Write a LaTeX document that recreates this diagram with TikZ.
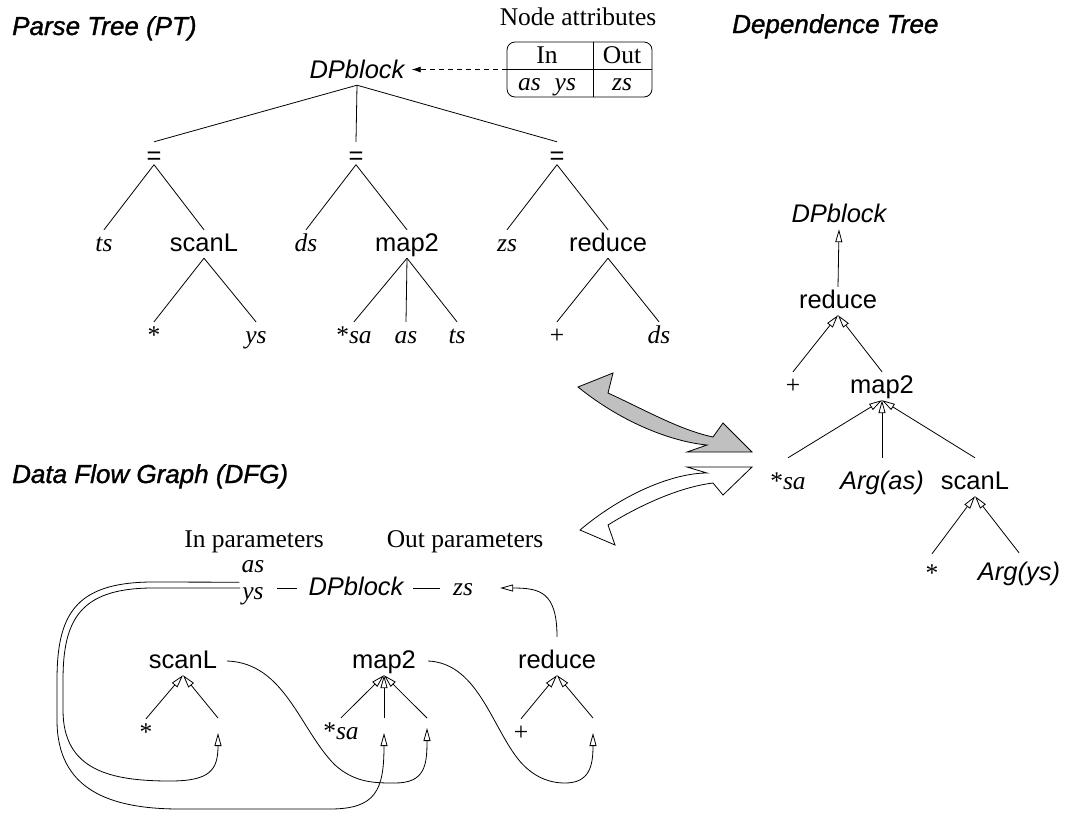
\documentclass[tikz,border=0pt]{standalone}
\usepackage{fontspec}
\setmainfont{Liberation Serif}
\setsansfont{Liberation Sans}
\newfontfamily\headfont[FakeBold=1.2]{Liberation Sans}
\usetikzlibrary{arrows.meta,calc}

\begin{document}
\begin{tikzpicture}[x=1pt,y=-1pt,
  every node/.style={inner sep=2pt, anchor=base, text height=19pt, text depth=5pt,
    font=\fontsize{25.5}{30}\selectfont},
  sf/.style={font=\fontsize{25.5}{30}\selectfont\sffamily},
  sfi/.style={font=\fontsize{25.5}{30}\selectfont\sffamily\itshape},
  rmi/.style={font=\fontsize{25.5}{30}\selectfont\itshape},
  eqn/.style={sf, text height=22.5pt, text depth=0pt, inner sep=0pt},
  heading/.style={font=\fontsize{26}{30}\selectfont\headfont\itshape, anchor=base west, inner sep=0pt},
  tree/.style={line width=0.8pt},
  dep/.style={line width=0.8pt, -{Triangle[open,length=13pt,width=7pt,line width=0.8pt]}},
  bigarrow/.style={line width=0.8pt, line join=miter},
]
\fill[white] (0,0) rectangle (1067,812);
\useasboundingbox (0,0) rectangle (1067,812);

% ---------- headings ----------
\node[heading] (hpt)  at (12,35)  {Parse Tree (PT)};
\node[heading] (hdt)  at (732,33) {Dependence Tree};
\node[heading] (hdfg) at (12,483) {Data Flow Graph (DFG)};

% ---------- parse tree ----------
\node[sfi] (pdp) at (357,78) {DPblock};
\node[eqn] (e1) at (154,164.5) {=};
\node[eqn] (e2) at (356,164.5) {=};
\node[eqn] (e3) at (557,164.5) {=};

\node[rmi] (pts)   at (104,251) {ts};
\node[sf]  (pscan) at (204,251) {scanL};
\node[rmi] (pds)   at (306,251) {ds};
\node[sf]  (pmap)  at (407,251) {map2};
\node[rmi] (pzs)   at (507,251) {zs};
\node[sf]  (pred)  at (608,251) {reduce};

\node      (pstar) at (154,343) {*};
\node[rmi] (pys)   at (256,343) {ys};
\node      (psa)   at (354,343) {*\textit{sa}};
\node[rmi] (pas)   at (406,343) {as};
\node[rmi] (pts2)  at (457,343) {ts};
\node      (pplus) at (557,343) {+};
\node[rmi] (pds2)  at (659,343) {ds};

\draw[tree] (pdp.south) -- (e1.north);
\draw[tree] (pdp.south) -- (e2.north);
\draw[tree] (pdp.south) -- (e3.north);
\draw[tree] (e1.south) -- (pts.north);
\draw[tree] (e1.south) -- (pscan.north);
\draw[tree] (e2.south) -- (pds.north);
\draw[tree] (e2.south) -- (pmap.north);
\draw[tree] (e3.south) -- (pzs.north);
\draw[tree] (e3.south) -- (pred.north);
\draw[tree] (pscan.south) -- (pstar.north);
\draw[tree] (pscan.south) -- (pys.north);
\draw[tree] (pmap.south) -- (psa.north);
\draw[tree] (pmap.south) -- (pas.north);
\draw[tree] (pmap.south) -- (pts2.north);
\draw[tree] (pred.south) -- (pplus.north);
\draw[tree] (pred.south) -- (pds2.north);

% node attribute table
\node (natt) at (578,25) {Node attributes};
\node[draw, line width=0.8pt, rounded corners=8pt, minimum width=145pt, minimum height=55pt,
      inner sep=0pt, anchor=center, text height=, text depth=] (attr) at (579.5,69.5) {};
\draw[line width=0.8pt] (attr.west) -- (attr.east);
\draw[line width=0.8pt] ([xshift=13.5pt]attr.north) -- ([xshift=13.5pt]attr.south);
\node (cin)  at (547,63) {In};
\node (cout) at (622,63) {Out};
\node (cinv) at (547,90) {\textit{as}\hspace{0.55em}\textit{ys}};
\node[rmi] (coutv) at (622,90) {zs};
\draw[line width=0.8pt, dash pattern=on 5pt off 4pt, -{Latex[length=9pt,width=6pt]}, shorten >=5pt]
  (attr.west) -- (pdp.east |- attr.west);

% ---------- dependence tree ----------
\node[sfi] (ddp)   at (839,222) {DPblock};
\node[sf]  (dred)  at (838,308) {reduce};
\node      (dplus) at (793,393) {+};
\node[sf]  (dmap)  at (882,393) {map2};
\node      (dsa)   at (788,489) {*\textit{sa}};
\node[sfi] (darg1) at (882,489) {Arg(as)};
\node[sf]  (dscan) at (975,489) {scanL};
\node      (dstar) at (932,581) {*};
\node[sfi] (darg2) at (1019,580) {Arg(ys)};

\draw[dep] (dred.north) -- (ddp.south);
\draw[dep] (dplus.north) -- (dred.south);
\draw[dep] (dmap.north) -- (dred.south);
\draw[dep] ([yshift=10pt]dsa.north) -- (dmap.south);
\draw[dep] ([yshift=10pt]darg1.north) -- (dmap.south);
\draw[dep] ([yshift=10pt]dscan.north) -- (dmap.south);
\draw[dep] ([yshift=6pt]dstar.north) -- (dscan.south);
\draw[dep] ([yshift=6pt]darg2.north) -- (dscan.south);

% ---------- transformation arrows ----------
\filldraw[bigarrow, fill={rgb,255:red,192;green,192;blue,192}]
  (578,387) -- (613,373) -- (608,393)
  .. controls (645,410) and (680,430) .. (713,437)
  -- (723,423) -- (752,452) -- (687,452) -- (707,445)
  .. controls (675,442) and (625,425) .. cycle;
\filldraw[bigarrow, fill=white]
  (580,530) -- (615,545) -- (608,525)
  .. controls (640,505) and (680,487) .. (713,483)
  -- (723,495) -- (752,467) -- (687,467) -- (707,473)
  .. controls (675,473) and (625,492) .. cycle;

% ---------- data flow graph ----------
\node (pin)  at (254,547) {In parameters};
\node (pout) at (465,547) {Out parameters};

\node[rmi] (fas)  at (253,572) {as};
\node[rmi] (fys)  at (253,599) {ys};
\node[sfi] (fdp)  at (356,595) {DPblock};
\node[rmi] (fzs)  at (463,595) {zs};
\draw[tree, shorten <=11pt, shorten >=9pt] (fys.east |- fdp.west) -- (fdp.west);
\draw[tree, shorten <=7.5pt, shorten >=11pt] (fdp.east) -- (fzs.west);

\node[sf] (fscan) at (183,668) {scanL};
\node[sf] (fmap)  at (384,668) {map2};
\node[sf] (fred)  at (557,668) {reduce};
\node (fstar) at (146,740) {*};
\node (fsa)   at (341,739) {*\textit{sa}};
\node (fplus) at (521,740) {+};

\coordinate (fsr) at (218,718);
\coordinate (fmm) at (384,718);
\coordinate (fmr) at (427,718);
\coordinate (frr) at (593,718);
\coordinate (fsrin) at (218,733);
\coordinate (fmmin) at (384,733);
\coordinate (fmrin) at (427,728);
\coordinate (frrin) at (593,733);

\draw[dep] (fstar.north) -- (fscan.south);
\draw[dep] (fsr) -- (fscan.south);
\draw[dep] (fsa.north) -- (fmap.south);
\draw[dep] (fmm) -- (fmap.south);
\draw[dep] (fmr) -- (fmap.south);
\draw[dep] (fplus.north) -- (fred.south);
\draw[dep] (frr) -- (fred.south);

% result of reduce goes to the out parameter
\draw[dep] ([yshift=10pt]fred.north) .. controls (557,592) and (540,588) .. ([xshift=25pt]fzs.east);
% scanL result feeds map2
\draw[dep] ([xshift=8pt]fscan.east) .. controls (285,663) and (300,730) .. (335,765)
  .. controls (355,783) and (375,783) .. (395,783)
  .. controls (425,783) and (427,765) .. (fmrin);
% map2 result feeds reduce
\draw[dep] ([xshift=10pt]fmap.east) .. controls (475,663) and (490,720) .. (515,755)
  .. controls (530,776) and (548,783) .. (565,783)
  .. controls (590,783) and (593,765) .. (frrin);
% in parameter ys feeds scanL
\draw[dep] ([yshift=4pt]fys.west) -- (150,588)
  .. controls (80,589) and (63,620) .. (63,680) -- (63,710)
  .. controls (63,770) and (110,781) .. (170,781)
  .. controls (210,781) and (218,770) .. (fsrin);
% in parameter as feeds map2
\draw[dep] ([yshift=-3pt]fas.south west) -- (150,582)
  .. controls (75,583) and (57,615) .. (57,680) -- (57,720)
  .. controls (57,790) and (110,809) .. (180,809) -- (330,809)
  .. controls (376,809) and (384,790) .. (fmmin);
\end{tikzpicture}
\end{document}
